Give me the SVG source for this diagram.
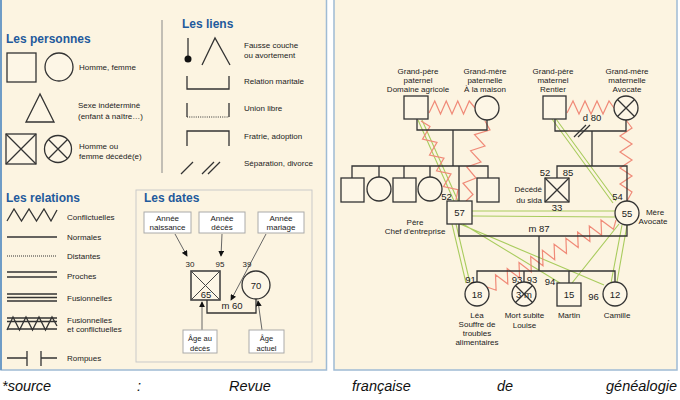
<svg xmlns="http://www.w3.org/2000/svg" width="680" height="400" viewBox="0 0 680 400">
<defs>
<style>
text{font-family:"Liberation Sans",Arial,sans-serif;fill:#222;font-size:8px}
.t{font-size:12px;font-weight:bold;fill:#1f5a9c}
.c{text-anchor:middle}
.e{text-anchor:end}
.n{font-size:9.5px}
.sm{font-size:7.5px}
.cap{font-size:14.5px;font-style:italic;fill:#111}
.k{fill:none;stroke:#333;stroke-width:1.3}
.sh{fill:#fdf6e6;stroke:#333;stroke-width:1.3}
.bx{fill:#fff;stroke:#aaa;stroke-width:1}
.rz{fill:none;stroke:#f08a78;stroke-width:1.2;stroke-linejoin:miter}
.gl{fill:none;stroke:#a9cc5e;stroke-width:1.1}
.ar{fill:none;stroke:#666;stroke-width:1}
</style>
<marker id="ah" viewBox="0 0 8 8" refX="7" refY="4" markerWidth="6" markerHeight="6" orient="auto" markerUnits="userSpaceOnUse"><path d="M0,0 L8,4 L0,8 z" fill="#111"/></marker>
</defs>
<rect x="0" y="0" width="680" height="400" fill="#fff"/>
<rect x="1" y="-2" width="325.5" height="372" fill="#fcf4e1" stroke="#9fbbd4" stroke-width="1.5"/>
<rect x="334" y="-2" width="343" height="372" fill="#fcf4e1" stroke="#9fbbd4" stroke-width="1.5"/>
<line x1="1" y1="0" x2="1" y2="370" stroke="#6f9cc6" stroke-width="2"/>

<g id="legend-personnes">
<text class="t" x="6" y="43">Les personnes</text>
<rect class="sh" x="7" y="53" width="29" height="29"/>
<circle class="sh" cx="59" cy="67" r="14"/>
<text x="79" y="70">Homme, femme</text>
<polygon class="sh" points="40,94 26,122 54,122"/>
<text x="78" y="108">Sexe indéterminé</text>
<text x="78" y="119">(enfant à naître…)</text>
<rect class="sh" x="6" y="134" width="30" height="30"/>
<path class="k" d="M6,134 L36,164 M36,134 L6,164"/>
<circle class="sh" cx="58" cy="149" r="13.5"/>
<path class="k" d="M48.5,139.5 L67.5,158.5 M67.5,139.5 L48.5,158.5"/>
<text x="79" y="149">Homme ou</text>
<text x="79" y="159">femme décédé(e)</text>
</g>
<line x1="162" y1="20" x2="162" y2="173" stroke="#888" stroke-width="1"/>

<g id="legend-liens">
<text class="t" x="182" y="28">Les liens</text>
<line class="k" x1="188" y1="38" x2="188" y2="57"/>
<circle cx="188" cy="59" r="3.5" fill="#111"/>
<path class="k" d="M202,65 L215,38 L230,65"/>
<text x="244" y="48">Fausse couche</text>
<text x="244" y="58">ou avortement</text>
<path class="k" d="M187,76 V89 H229 V76"/>
<text x="244" y="84">Relation maritale</text>
<path class="k" d="M187,103 V117 M229,103 V117"/>
<line x1="187" y1="117" x2="229" y2="117" stroke="#333" stroke-width="1" stroke-dasharray="1,1.2"/>
<text x="244" y="111">Union libre</text>
<path class="k" d="M187,146 V131 H229 V146"/>
<text x="244" y="139">Fratrie, adoption</text>
<path class="k" d="M181,174 L193,162 M202,174 L214,162 M208,174 L220,162"/>
<text x="244" y="166">Séparation, divorce</text>
</g>

<g id="legend-relations">
<text class="t" x="6" y="202">Les relations</text>
<polyline class="k" points="7,221 14,209 21.5,221 29,209 36.5,221 44,209 51,221 57,210"/>
<text x="67" y="220">Conflictuelles</text>
<line class="k" x1="7" y1="237" x2="57" y2="237"/>
<text x="67" y="240">Normales</text>
<line x1="7" y1="256" x2="57" y2="256" stroke="#333" stroke-width="1" stroke-dasharray="1,1"/>
<text x="67" y="259">Distantes</text>
<path class="k" d="M7,272 H57 M7,277 H57"/>
<text x="67" y="279">Proches</text>
<path class="k" d="M7,294 H57 M7,297.5 H57 M7,301 H57"/>
<text x="67" y="301">Fusionnelles</text>
<path class="k" d="M7,318 H57 M7,321.5 H57 M7,329 H57"/>
<polyline class="k" points="7,330 13,317 19.5,330 26,317 32.5,330 39,317 45.5,330 52,317 57,326"/>
<text x="67" y="323">Fusionnelles</text>
<text x="67" y="332">et conflictuelles</text>
<path class="k" d="M7,358 H27 M27,351 V366 M41,351 V366 M41,358 H57"/>
<text x="67" y="361">Rompues</text>
</g>

<g id="legend-dates">
<rect x="136" y="190" width="176" height="172" fill="none" stroke="#c9c9c9" stroke-width="1"/>
<text class="t" x="144" y="202">Les dates</text>
<rect class="bx" x="144" y="212" width="47" height="21"/>
<text class="c" x="167.5" y="221">Année</text>
<text class="c" x="167.5" y="230">naissance</text>
<rect class="bx" x="199" y="212" width="46" height="21"/>
<text class="c" x="222" y="221">Année</text>
<text class="c" x="222" y="230">décès</text>
<rect class="bx" x="258" y="212" width="46" height="21"/>
<text class="c" x="281" y="221">Année</text>
<text class="c" x="281" y="230">mariage</text>
<line class="ar" x1="175" y1="234" x2="187" y2="256" marker-end="url(#ah)"/>
<line class="ar" x1="222" y1="234" x2="221" y2="256" marker-end="url(#ah)"/>
<line class="ar" x1="266" y1="234" x2="231" y2="300" marker-end="url(#ah)"/>
<text class="c" x="190" y="267" font-size="10">30</text>
<text class="c" x="220" y="267" font-size="10">95</text>
<text class="c" x="247" y="267" font-size="10">39</text>
<rect x="191" y="271" width="29" height="29" fill="#fdf6e6" stroke="#444" stroke-width="1.6"/>
<path d="M191,271 L220,300 M220,271 L191,300" stroke="#444" stroke-width="1"/>
<text class="c n" x="206" y="298">65</text>
<circle class="sh" cx="256" cy="285" r="14"/>
<text class="c n" x="256" y="288.5">70</text>
<path class="k" d="M207,300 V313 H256 V299"/>
<text class="c n" x="232" y="309">m 60</text>
<line class="ar" x1="202" y1="330" x2="202" y2="302" marker-end="url(#ah)"/>
<line class="ar" x1="262" y1="330" x2="258" y2="301" marker-end="url(#ah)"/>
<rect class="bx" x="183" y="330" width="34" height="23"/>
<text class="c sm" x="200" y="341">Âge au</text>
<text class="c sm" x="200" y="350.5">décès</text>
<rect class="bx" x="249" y="330" width="35" height="23"/>
<text class="c sm" x="266.5" y="341">Âge</text>
<text class="c sm" x="266.5" y="350.5">actuel</text>
</g>

<g id="connectors">
<path class="gl" d="M418,120 L454,201 M422,120 L458,201"/>
<path class="gl" d="M452,224 L466,283 M456,224 L470,283"/>
<path class="gl" d="M552,119 L613,203 M556,119 L616,201"/>
<path class="gl" d="M472,211 L615,211 M472,216 L615,217"/>
<path class="gl" d="M463,224 L560,283 M460,224 L604,285"/>
<path class="gl" d="M619,224 L572,283 M622,225 L611,283 M627,225 L617,282"/>
<polyline class="rz" points="429,113 434.75,101 440.5,114 446.25,101 452,114 457.75,101 463.5,114 469.25,101 475,108"/>
<polyline class="rz" points="567,113 573,101 579,114 585,101 591,114 597,101 603,114 609,101 614,108"/>
<polyline class="rz" points="421,121 430,126.5 422.5,139.2 437,142.3 429.5,155 444,158.1 436.5,170.8 451,173.9 443.5,186.6 458,189.7 456,200"/>
<polyline class="rz" points="485,121 490,130 474.5,134.6 485,146 470.6,150.8 481,162 466.8,167 476,178 463,183.2 473,194.5 466,201"/>
<polyline class="rz" points="626,120 632,128 620,136 632,144 620,152 632,160 620,168 632,176 620,184 632,192 627,201"/>
<polyline class="rz" points="616,220 613.4,229.3 601,219.9 601.6,235.3 589.3,226 589.9,241.4 577.6,232.1 578.2,247.5 565.9,238.2 566.5,253.6 554.1,244.2 554.7,259.7 542.4,250.3 543,265.8 530.7,256.4 531.3,271.9 519,262.5 519.6,278 507.2,268.6 507.8,284.1 495.5,274.7 496.1,290.2 487,287"/>
<path class="k" d="M417,119 V130 H487 V120"/>
<path class="k" d="M453,130 V166"/>
<path class="k" d="M555,119 V131 H626 V120"/>
<path class="k" d="M574,137 L586,125 M578,137 L590,125"/>
<path class="k" d="M592,131 V166"/>
<path class="k" d="M352,178 V166 H488 V178 M379,166 V177 M404,166 V178 M430,166 V177 M459,166 V201"/>
<path class="k" d="M557,178 V166 H627 V201"/>
<path class="k" d="M459,224 V236 H627 V225"/>
<path class="k" d="M539,236 V271"/>
<path class="k" d="M477,282 V271 H615 V282 M524,271 V282 M569,271 V283"/>
<text class="c n" x="592" y="121">d 80</text>
<text class="c n" x="539" y="232">m 87</text>
</g>

<g id="gp-paternel">
<rect class="sh" x="404" y="96" width="24" height="23"/>
<text class="c" x="418" y="73.5">Grand-père</text>
<text class="c" x="418" y="82.5">paternel</text>
<text class="c" x="418" y="91.5">Domaine agricole</text>
</g>
<g id="gm-paternelle">
<circle class="sh" cx="487" cy="108" r="12"/>
<text class="c" x="485" y="73.5">Grand-mère</text>
<text class="c" x="485" y="82.5">paternelle</text>
<text class="c" x="485" y="91.5">À la maison</text>
</g>
<g id="gp-maternel">
<rect class="sh" x="543" y="96" width="23" height="23"/>
<text class="c" x="553" y="73.5">Grand-père</text>
<text class="c" x="553" y="82.5">maternel</text>
<text class="c" x="553" y="91.5">Rentier</text>
</g>
<g id="gm-maternelle">
<circle class="sh" cx="626" cy="108" r="12"/>
<path class="k" d="M617.5,99.5 L634.5,116.5 M634.5,99.5 L617.5,116.5"/>
<text class="c" x="627" y="73.5">Grand-mère</text>
<text class="c" x="627" y="82.5">maternelle</text>
<text class="c" x="627" y="91.5">Avocate</text>
</g>
<g id="oncles-tantes">
<rect class="sh" x="341" y="178" width="23" height="24"/>
<circle class="sh" cx="379" cy="189" r="12"/>
<rect class="sh" x="393" y="178" width="23" height="24"/>
<circle class="sh" cx="430" cy="189" r="12"/>
<rect class="sh" x="477" y="178" width="22" height="24"/>
</g>
<g id="pere">
<rect class="sh" x="447" y="201" width="25" height="23"/>
<text class="c n" x="459.5" y="215.5">57</text>
<text class="c n" x="446.5" y="200">52</text>
<text class="c" x="415" y="225">Père</text>
<text class="c" x="415" y="234">Chef d'entreprise</text>
</g>
<g id="oncle-sida">
<rect class="sh" x="545" y="178" width="24" height="24"/>
<path class="k" d="M545,178 L569,202 M569,178 L545,202"/>
<text class="c n" x="545" y="176">52</text>
<text class="c n" x="568" y="176">85</text>
<text class="c n" x="557" y="211">33</text>
<text class="e" x="542" y="191.5">Décédé</text>
<text class="e" x="542" y="202.5">du sida</text>
</g>
<g id="mere">
<circle class="sh" cx="627" cy="213" r="12"/>
<text class="c n" x="627" y="216.5">55</text>
<text class="c n" x="617.5" y="200">54</text>
<text class="c" x="655" y="215">Mère</text>
<text class="c" x="653" y="224">Avocate</text>
</g>
<g id="lea">
<circle class="sh" cx="477" cy="294" r="12"/>
<text class="c n" x="477" y="297.5">18</text>
<text class="c n" x="470.5" y="282.5">91</text>
<text class="c" x="477" y="318">Léa</text>
<text class="c" x="477" y="327">Souffre de</text>
<text class="c" x="477" y="336">troubles</text>
<text class="c" x="477" y="345">alimentaires</text>
</g>
<g id="louise">
<circle class="sh" cx="524" cy="294" r="12"/>
<text class="c n" x="524" y="297.5">3 m</text>
<path class="k" d="M515.5,285.5 L532.5,302.5 M532.5,285.5 L515.5,302.5"/>
<text class="c n" x="517" y="282.5">93</text>
<text class="c n" x="532" y="282.5">93</text>
<text class="c" x="524.5" y="318">Mort subite</text>
<text class="c" x="524.5" y="327.5">Louise</text>
</g>
<g id="martin">
<rect class="sh" x="557" y="283" width="24" height="23"/>
<text class="c n" x="569" y="297.5">15</text>
<text class="c n" x="550" y="284.5">94</text>
<text class="c" x="569" y="318">Martin</text>
</g>
<g id="camille">
<circle class="sh" cx="615" cy="294" r="12"/>
<text class="c n" x="615" y="297.5">12</text>
<text class="c n" x="593.5" y="299.5">96</text>
<text class="c" x="617" y="318">Camille</text>
</g>

<g id="caption">
<text class="cap" x="2" y="391">*source</text>
<text class="cap" x="137" y="391">:</text>
<text class="cap" x="229" y="391">Revue</text>
<text class="cap" x="352" y="391">française</text>
<text class="cap" x="497" y="391">de</text>
<text class="cap" x="677" y="391" text-anchor="end">généalogie</text>
</g>
</svg>
